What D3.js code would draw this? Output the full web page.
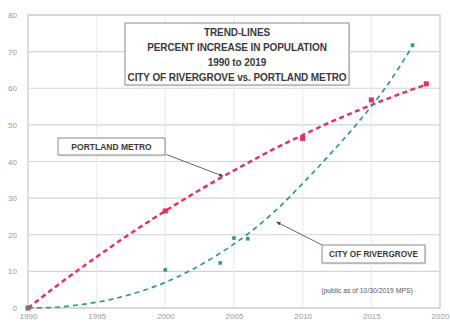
<!DOCTYPE html>
<html><head><meta charset="utf-8">
<script src="https://cdn.jsdelivr.net/npm/d3@7"></script>
<style>body{margin:0;background:#fff}svg{display:block}</style>
</head><body>
<svg id="c" width="450" height="324"></svg>
<script>
// ---- data ----
const xTicks = [1990,1995,2000,2005,2010,2015,2020];
const yTicks = [0,10,20,30,40,50,60,70,80];
const titleLines = ["TREND-LINES","PERCENT INCREASE IN POPULATION","1990 to 2019","CITY OF RIVERGROVE vs. PORTLAND METRO"];
// Portland Metro observed points
const portlandYears = [1990,2000,2010,2015,2019];
const portlandValues = [0,26.5,46.3,56.8,61.2];
// Portland trend-line
const portlandTrendYears = [1990,1992,1994,1996,1998,2000,2002,2004,2006,2008,2010,2012,2014,2016,2018,2019];
const portlandTrendValues = [0,5.8,11.3,16.6,21.7,26.5,31.1,35.5,39.6,43.6,47.2,50.7,53.9,56.9,59.7,61.0];
// City of Rivergrove observed points
const rivergroveYears = [1990,2000,2004,2005,2006,2018];
const rivergroveValues = [0,10.4,12.3,19.1,18.9,71.8];
// Rivergrove trend-line
const rivergroveTrendYears = [1990,1992,1994,1996,1998,2000,2002,2004,2006,2008,2010,2012,2014,2016,2018];
const rivergroveTrendValues = [0,0.2,1.0,2.3,4.3,7.0,10.6,15.0,20.2,26.5,34.0,42.0,50.5,60.0,71.5];
const labels = {portland:"PORTLAND METRO", rivergrove:"CITY OF RIVERGROVE", note:"(public as of 10/30/2019    MPS)"};

// ---- chart ----
const svg = d3.select("#c");
const x = d3.scaleLinear().domain([1990,2020]).range([28,440]);
const y = d3.scaleLinear().domain([0,80]).range([308,15]);
const pink = "#ee2a62", green = "#2e9e70";
const font = "'Liberation Sans', Arial, sans-serif";

// gridlines
svg.append("g").selectAll("line.h").data(yTicks).join("line")
  .attr("x1",x(1990)).attr("x2",x(2020)).attr("y1",d=>y(d)).attr("y2",d=>y(d))
  .attr("stroke","#d4d4d4").attr("stroke-width",1.2);
svg.append("g").selectAll("line.v").data(xTicks).join("line")
  .attr("y1",y(0)).attr("y2",y(80)).attr("x1",d=>x(d)).attr("x2",d=>x(d))
  .attr("stroke","#ececec").attr("stroke-width",1.2);
// plot border
svg.append("rect").attr("x",x(1990)).attr("y",y(80)).attr("width",x(2020)-x(1990)).attr("height",y(0)-y(80))
  .attr("fill","none").attr("stroke","#cfcfcf").attr("stroke-width",1.2);

// axes
const yAxis = svg.append("g").attr("transform",`translate(${x(1990)},0)`)
  .call(d3.axisLeft(y).tickValues(yTicks).tickSize(0).tickPadding(11));
const xAxis = svg.append("g").attr("transform",`translate(0,${y(0)})`)
  .call(d3.axisBottom(x).tickValues(xTicks).tickFormat(d3.format("d")).tickSize(0).tickPadding(5));
[yAxis,xAxis].forEach(a=>{
  a.select(".domain").remove();
  a.selectAll("text").attr("fill","#9a9a9a").style("font-family",font).style("font-size","8px");
});

// trend lines
const line = d3.line().x(d=>x(d[0])).y(d=>y(d[1])).curve(d3.curveMonotoneX);
svg.append("path").datum(portlandTrendYears.map((yr,i)=>[yr,portlandTrendValues[i]]))
  .attr("d",line).attr("fill","none").attr("stroke",pink).attr("stroke-width",2.4).attr("stroke-dasharray","5,3.5");
svg.append("path").datum(rivergroveTrendYears.map((yr,i)=>[yr,rivergroveTrendValues[i]]))
  .attr("d",line).attr("fill","none").attr("stroke",green).attr("stroke-width",1.7).attr("stroke-dasharray","5,4");

// points
svg.append("g").selectAll("rect").data(portlandYears.map((yr,i)=>[yr,portlandValues[i]])).join("rect")
  .attr("x",d=>x(d[0])-2.5).attr("y",d=>y(d[1])-2.5).attr("width",5).attr("height",5).attr("fill",pink);
svg.append("g").selectAll("rect").data(rivergroveYears.map((yr,i)=>[yr,rivergroveValues[i]])).join("rect")
  .attr("x",d=>x(d[0])-1.8).attr("y",d=>y(d[1])-1.8).attr("width",3.6).attr("height",3.6).attr("fill",green);

// title box
const tb = svg.append("g");
tb.append("rect").attr("x",126.5).attr("y",24.5).attr("width",224).attr("height",62).attr("fill","#ececec");
tb.append("rect").attr("x",125).attr("y",23).attr("width",224).attr("height",62).attr("fill","#fff").attr("stroke","#8a8a8a").attr("stroke-width",1);
tb.selectAll("text").data(titleLines).join("text")
  .attr("x",237).attr("y",(d,i)=>35.5+i*15).attr("text-anchor","middle")
  .attr("fill","#3a3a3a").style("font-family",font).style("font-size","10px").style("font-weight","bold")
  .style("letter-spacing","-0.1px")
  .text(d=>d);

// annotation arrows
svg.append("defs").append("marker").attr("id","ah").attr("viewBox","0 0 10 10").attr("refX",9).attr("refY",5)
  .attr("markerWidth",5).attr("markerHeight",5).attr("orient","auto")
  .append("path").attr("d","M0,1 L10,5 L0,9 z").attr("fill","#444");
svg.append("line").attr("x1",165).attr("y1",154).attr("x2",x(2004.2)).attr("y2",y(36))
  .attr("stroke","#555").attr("stroke-width",0.9).attr("marker-end","url(#ah)");
svg.append("line").attr("x1",322).attr("y1",245).attr("x2",x(2008.1)).attr("y2",y(23.5))
  .attr("stroke","#555").attr("stroke-width",0.9).attr("marker-end","url(#ah)");

// label boxes
function box(x0,y0,w,h,t,fs){
  svg.append("rect").attr("x",x0+1.5).attr("y",y0+1.5).attr("width",w).attr("height",h).attr("fill","#e8e8e8");
  svg.append("rect").attr("x",x0).attr("y",y0).attr("width",w).attr("height",h).attr("fill","#fff").attr("stroke","#8a8a8a");
  svg.append("text").attr("x",x0+w/2).attr("y",y0+h/2+fs*0.36).attr("text-anchor","middle")
    .attr("fill","#3a3a3a").style("font-family",font).style("font-size",fs+"px").style("font-weight","bold").text(t);
}
box(58,138,107,17,labels.portland,8.5);
box(322,245,103,18,labels.rivergrove,8.2);

svg.append("text").attr("x",367).attr("y",293).attr("text-anchor","middle").attr("fill","#555")
  .style("font-family",font).style("font-size","6.8px").text(labels.note);
</script>
</body></html>
